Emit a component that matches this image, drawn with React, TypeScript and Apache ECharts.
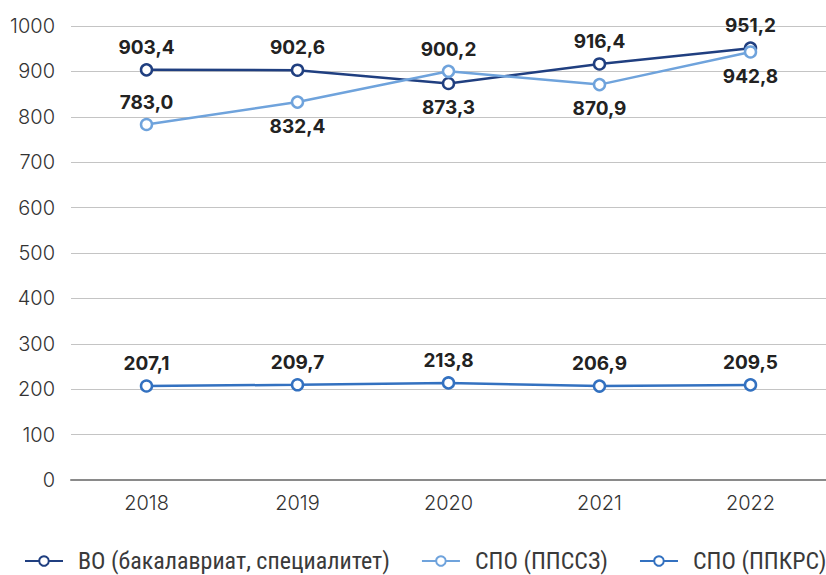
import React, { useEffect, useRef } from "react";
import * as echarts from "echarts";

const years = ["2018", "2019", "2020", "2021", "2022"];
const seriesNames = ["ВО (бакалавриат, специалитет)", "СПО (ППССЗ)", "СПО (ППКРС)"];
const vo = [903.4, 902.6, 873.3, 916.4, 951.2];
const ppssz = [783.0, 832.4, 900.2, 870.9, 942.8];
const ppkrs = [207.1, 209.7, 213.8, 206.9, 209.5];
const voLabelPos = ["top", "top", "bottom", "top", "top"];
const ppsszLabelPos = ["top", "bottom", "top", "bottom", "bottom"];
const ppkrsLabelPos = ["top", "top", "top", "top", "top"];
const colors = ["#203f80", "#6fa3dc", "#3371c0"];

const fmt = (v: number) => v.toFixed(1).replace(".", ",");

function makeSeries(name: string, values: number[], pos: string[], color: string) {
  return {
    name,
    type: "line",
    data: values.map((v, i) => ({
      value: v,
      label: { position: pos[i], distance: pos[i] === "top" ? 6 : 8 },
    })),
    symbol: "circle",
    symbolSize: 11,
    showAllSymbol: true,
    lineStyle: { color, width: 2.5 },
    itemStyle: { color: "#ffffff", borderColor: color, borderWidth: 2.5 },
    label: {
      show: true,
      formatter: (p: any) => fmt(p.value),
      fontFamily: "Inter, 'Open Sans', sans-serif",
      fontWeight: "bold",
      fontSize: 19,
      color: "#222222",
    },
    emphasis: { disabled: true },
  };
}

export default function App() {
  const ref = useRef<HTMLDivElement>(null);
  useEffect(() => {
    if (!ref.current) return;
    const chart = echarts.init(ref.current, null, { renderer: "svg" });
    chart.setOption({
      animation: false,
      color: colors,
      grid: { left: 71, right: -1, top: 26, bottom: 95 },
      legend: {
        top: 549,
        left: 24,
        width: 840,
        padding: 0,
        itemWidth: 38,
        itemHeight: 12,
        itemGap: 31,
        textStyle: {
          fontFamily: "'Liberation Sans Narrow', 'Roboto Condensed', Roboto, sans-serif",
          fontSize: 24,
          lineHeight: 24,
          color: "#3a3a3a",
          padding: [0, 0, 0, 10],
        },
        data: seriesNames,
      },
      xAxis: {
        type: "category",
        data: years,
        boundaryGap: true,
        axisLine: { lineStyle: { color: "#8a8a8a", width: 2 } },
        axisTick: { show: false },
        axisLabel: {
          margin: 13,
          fontFamily: "Inter, Roboto, sans-serif",
          fontWeight: 300,
          fontSize: 20,
          color: "#333333",
        },
      },
      yAxis: {
        type: "value",
        min: 0,
        max: 1000,
        interval: 100,
        axisLine: { show: false },
        axisTick: { show: false },
        splitLine: { lineStyle: { color: "#c4c4c4", width: 1.2 } },
        axisLabel: {
          margin: 16,
          formatter: (v: number) => String(v),
          fontFamily: "Inter, Roboto, sans-serif",
          fontWeight: 300,
          fontSize: 20,
          color: "#333333",
        },
      },
      series: [
        makeSeries(seriesNames[0], vo, voLabelPos, colors[0]),
        makeSeries(seriesNames[1], ppssz, ppsszLabelPos, colors[1]),
        makeSeries(seriesNames[2], ppkrs, ppkrsLabelPos, colors[2]),
      ],
    });
    return () => chart.dispose();
  }, []);
  return (
    <div
      ref={ref}
      style={{ position: "absolute", left: 0, top: 0, width: 826, height: 575 }}
    />
  );
}
